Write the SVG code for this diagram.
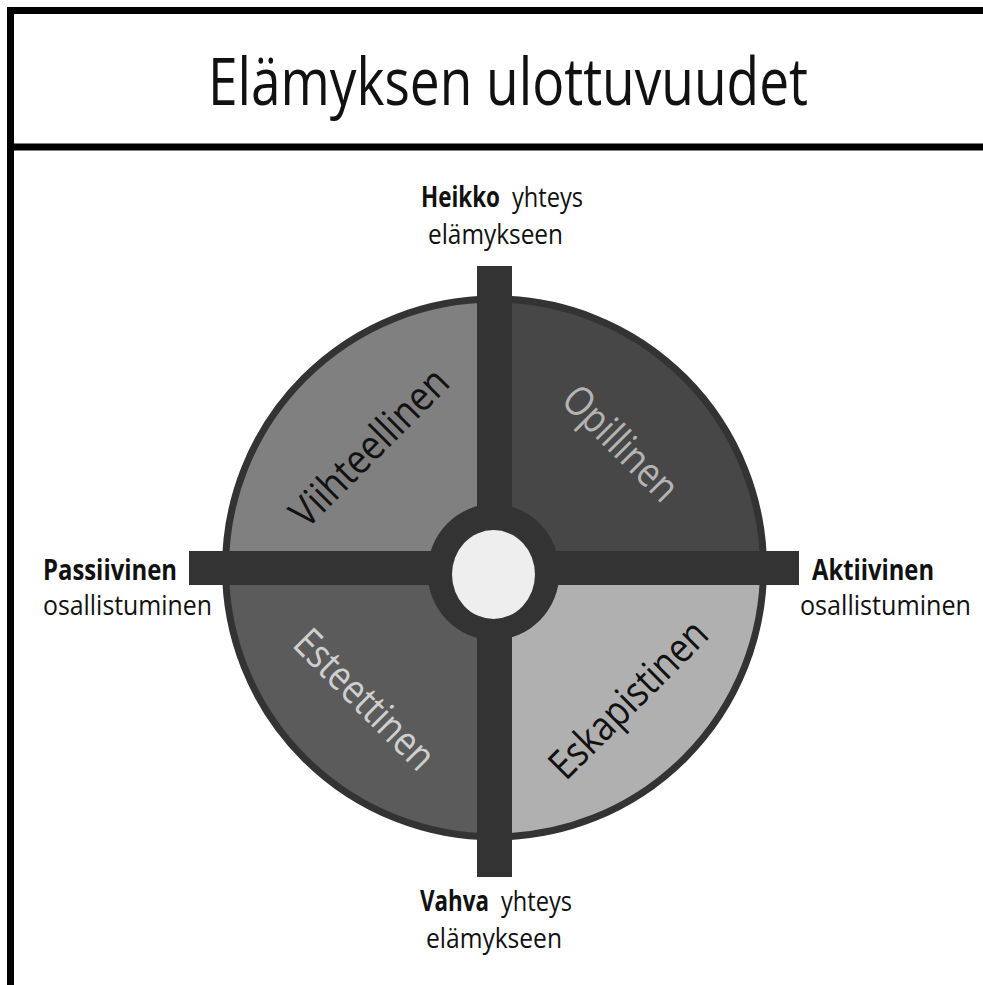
<svg xmlns="http://www.w3.org/2000/svg" width="983" height="985" viewBox="0 0 983 985">
<style>
.t{font-family:"Open Sans","Noto Sans","Liberation Sans",sans-serif;fill:#111}
.b{font-weight:bold}
.lab{font-size:28px}
.q{font-size:41px}
.bar{fill:#333}
</style>
<rect width="983" height="985" fill="#fff"/>
<g id="frame">
<rect x="10.5" y="10.5" width="1000" height="1000" fill="none" stroke="#000" stroke-width="7"/>
<line x1="10" y1="147" x2="983" y2="147" stroke="#000" stroke-width="7"/>
</g>
<g id="title">
<text class="t" x="208" y="105" font-size="66" textLength="600" lengthAdjust="spacingAndGlyphs">Elämyksen ulottuvuudet</text>
</g>
<g id="quadrants">
<g id="q-viihteellinen">
<path d="M494.5,568 L224.5,568 A270,270 0 0 1 494.5,298 Z" fill="#808080"/>
<text class="t q" transform="translate(368,446) rotate(-45)" text-anchor="middle" dominant-baseline="central" textLength="205" lengthAdjust="spacingAndGlyphs" fill="#111">Viihteellinen</text>
</g>
<g id="q-opillinen">
<path d="M494.5,568 L494.5,298 A270,270 0 0 1 764.5,568 Z" fill="#474747"/>
<text class="t q" transform="translate(622,442) rotate(45)" text-anchor="middle" dominant-baseline="central" textLength="145" lengthAdjust="spacingAndGlyphs" style="fill:#b4b4b4">Opillinen</text>
</g>
<g id="q-esteettinen">
<path d="M494.5,568 L494.5,838 A270,270 0 0 1 224.5,568 Z" fill="#5b5b5b"/>
<text class="t q" transform="translate(366,698) rotate(45)" text-anchor="middle" dominant-baseline="central" textLength="180" lengthAdjust="spacingAndGlyphs" style="fill:#cfcfcf">Esteettinen</text>
</g>
<g id="q-eskapistinen">
<path d="M494.5,568 L764.5,568 A270,270 0 0 1 494.5,838 Z" fill="#b0b0b0"/>
<text class="t q" transform="translate(627,698) rotate(-45)" text-anchor="middle" dominant-baseline="central" textLength="205" lengthAdjust="spacingAndGlyphs">Eskapistinen</text>
</g>
<circle cx="494.5" cy="568" r="269" fill="none" stroke="#333" stroke-width="7"/>
</g>
<g id="connectors">
<rect class="bar" x="477" y="266" width="35" height="611"/>
<rect class="bar" x="189" y="551" width="610" height="34"/>
</g>
<g id="center">
<ellipse cx="493.5" cy="572" rx="66" ry="68" fill="#333"/>
<ellipse cx="493.5" cy="574.5" rx="41.5" ry="44.5" fill="#eeeeee"/>
</g>
<g id="label-top">
<text class="t lab b" x="421" y="207" textLength="79" lengthAdjust="spacingAndGlyphs">Heikko</text>
<text class="t lab" x="512" y="207" textLength="71" lengthAdjust="spacingAndGlyphs">yhteys</text>
<text class="t lab" x="428" y="244" textLength="135" lengthAdjust="spacingAndGlyphs">elämykseen</text>
</g>
<g id="label-bottom">
<text class="t lab b" x="420" y="911" textLength="69" lengthAdjust="spacingAndGlyphs">Vahva</text>
<text class="t lab" x="501" y="911" textLength="71" lengthAdjust="spacingAndGlyphs">yhteys</text>
<text class="t lab" x="426" y="948" textLength="136" lengthAdjust="spacingAndGlyphs">elämykseen</text>
</g>
<g id="label-left">
<text class="t lab b" x="43" y="580" textLength="134" lengthAdjust="spacingAndGlyphs">Passiivinen</text>
<text class="t lab" x="43" y="615" textLength="169" lengthAdjust="spacingAndGlyphs">osallistuminen</text>
</g>
<g id="label-right">
<text class="t lab b" x="812" y="580" textLength="122" lengthAdjust="spacingAndGlyphs">Aktiivinen</text>
<text class="t lab" x="971" y="615" text-anchor="end" textLength="171" lengthAdjust="spacingAndGlyphs">osallistuminen</text>
</g>
</svg>
